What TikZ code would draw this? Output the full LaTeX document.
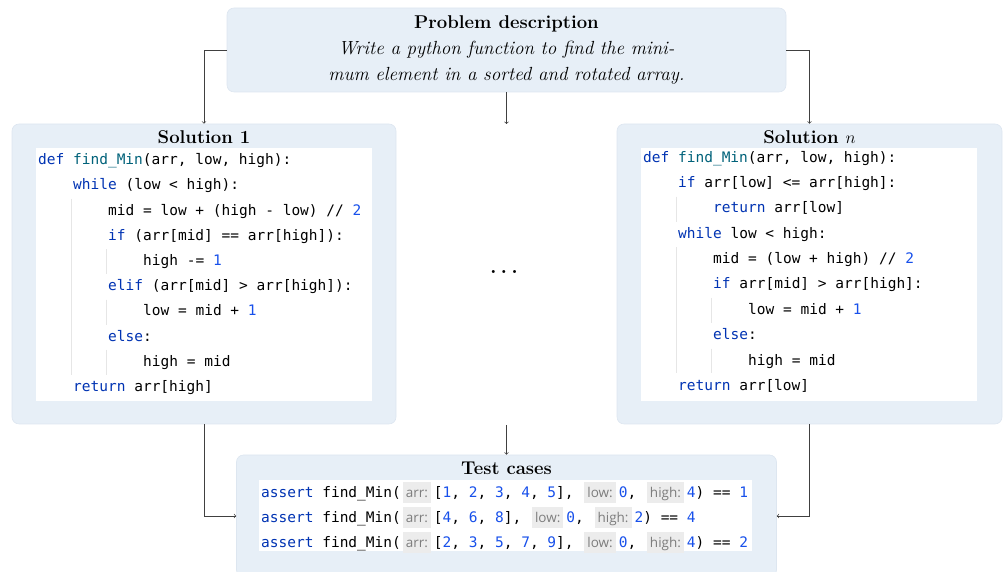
\documentclass[tikz,border=0pt]{standalone}
\usepackage{fontspec}
\newfontfamily\codefont{DejaVu Sans Mono}
\newfontfamily\hintfont{Open Sans}

\definecolor{boxfill}{RGB}{231,239,247}
\definecolor{boxline}{RGB}{221,230,240}
\definecolor{kwblue}{RGB}{0,51,179}
\definecolor{fnteal}{RGB}{0,98,122}
\definecolor{numblue}{RGB}{23,80,235}
\definecolor{hintbg}{RGB}{236,236,236}
\definecolor{hintfg}{RGB}{125,125,125}
\definecolor{guidegray}{RGB}{230,230,230}

\newcommand{\kw}[1]{\textcolor{kwblue}{#1}}
\newcommand{\fn}[1]{\textcolor{fnteal}{#1}}
\newcommand{\nm}[1]{\textcolor{numblue}{#1}}
\newcommand{\hint}[1]{\hspace{2pt}{\setlength{\fboxsep}{0pt}\colorbox{hintbg}{\hspace{3pt}\hintfont\fontsize{13.5}{15}\selectfont\color{hintfg}\rule[-5.5pt]{0pt}{21pt}#1\hspace{3pt}}}\hspace{3pt}}

\tikzset{
    panel/.style={draw=boxline, fill=boxfill, rounded corners=7pt, line width=0.6pt},
    codebg/.style={fill=white, inner sep=0pt},
    codeline/.style={anchor=west, inner sep=0pt, text height=10.5pt, text depth=3pt,
        font=\codefont\fontsize{14.5}{17}\selectfont},
    title/.style={font=\fontsize{18.5}{22}\selectfont\bfseries, inner sep=0pt},
    arr/.style={->, line width=0.7pt, draw=black!75},
    guide/.style={draw=guidegray, line width=0.8pt}
}

\begin{document}
\begin{tikzpicture}[x=1pt, y=1pt]
    \useasboundingbox (0,0) rectangle (1005,572);

%problem
    \node[panel, minimum width=559pt, minimum height=84pt] (prob) at (506.5,522) {};
    \node[title] (probtitle) at (506.5,548) {Problem description};
    \node[font=\fontsize{19}{26}\selectfont\itshape, align=center, inner sep=0pt] (probtext) at (506.5,509)
        {Write a python function to find the mini-\\mum element in a sorted and rotated array.};

%solution 1
    \node[panel, minimum width=384pt, minimum height=300pt] (sol1) at (204,298) {};
    \node[title] (sol1title) at (204,435) {Solution 1};
    \node[codebg, minimum width=336pt, minimum height=253pt] (code1) at (204,297.5) {};
    \draw[guide] (71,373.2) -- (71,196.8);
    \draw[guide] (106,322.8) -- (106,297.6);
    \draw[guide] (106,272.4) -- (106,247.2);
    \draw[guide] (106,222) -- (106,196.8);
    \node[codeline] (a0) at (38,411) {\kw{def} \fn{find\_Min}(arr, low, high):};
    \node[codeline] (a1) at (73,385.8) {\kw{while} (low < high):};
    \node[codeline] (a2) at (108,360.6) {mid = low + (high - low) // \nm{2}};
    \node[codeline] (a3) at (108,335.4) {\kw{if} (arr[mid] == arr[high]):};
    \node[codeline] (a4) at (143,310.2) {high -= \nm{1}};
    \node[codeline] (a5) at (108,285) {\kw{elif} (arr[mid] > arr[high]):};
    \node[codeline] (a6) at (143,259.8) {low = mid + \nm{1}};
    \node[codeline] (a7) at (108,234.6) {\kw{else}:};
    \node[codeline] (a8) at (143,209.4) {high = mid};
    \node[codeline] (a9) at (73,184.2) {\kw{return} arr[high]};

%solution n
    \node[panel, minimum width=385pt, minimum height=300pt] (soln) at (809.5,298) {};
    \node[title] (solntitle) at (809.5,435) {Solution $n$};
    \node[codebg, minimum width=336pt, minimum height=253pt] (coden) at (809,297.5) {};
    \draw[guide] (676,375.3) -- (676,350);
    \draw[guide] (676,324.6) -- (676,198.9);
    \draw[guide] (711,274) -- (711,248.7);
    \draw[guide] (711,223.3) -- (711,198.9);
    \node[codeline] (b0) at (643,413.5) {\kw{def} \fn{find\_Min}(arr, low, high):};
    \node[codeline] (b1) at (678,388.2) {\kw{if} arr[low] <= arr[high]:};
    \node[codeline] (b2) at (713,362.8) {\kw{return} arr[low]};
    \node[codeline] (b3) at (678,337.5) {\kw{while} low < high:};
    \node[codeline] (b4) at (713,312.1) {mid = (low + high) // \nm{2}};
    \node[codeline] (b5) at (713,286.8) {\kw{if} arr[mid] > arr[high]:};
    \node[codeline] (b6) at (748,261.4) {low = mid + \nm{1}};
    \node[codeline] (b7) at (713,236.1) {\kw{else}:};
    \node[codeline] (b8) at (748,210.7) {high = mid};
    \node[codeline] (b9) at (678,185.4) {\kw{return} arr[low]};

    \node[font=\fontsize{21}{24}\selectfont\bfseries, inner sep=0pt, anchor=base] (dots) at (504,298) {.\hspace{4pt}.\hspace{4pt}.};

%test cases
    \node[panel, minimum width=540pt, minimum height=122pt] (test) at (506.5,56) {};
    \node[title] (testtitle) at (506.5,104) {Test cases};
    \node[codebg, minimum width=493pt, minimum height=71pt] (codet) at (505.5,56.5) {};
    \node[codeline] (t1) at (261,78) {\kw{assert} find\_Min(\hint{arr:}[\nm{1}, \nm{2}, \nm{3}, \nm{4}, \nm{5}], \hint{low:}\nm{0}, \hint{high:}\nm{4}) == \nm{1}};
    \node[codeline] (t2) at (261,53) {\kw{assert} find\_Min(\hint{arr:}[\nm{4}, \nm{6}, \nm{8}], \hint{low:}\nm{0}, \hint{high:}\nm{2}) == \nm{4}};
    \node[codeline] (t3) at (261,28) {\kw{assert} find\_Min(\hint{arr:}[\nm{2}, \nm{3}, \nm{5}, \nm{7}, \nm{9}], \hint{low:}\nm{0}, \hint{high:}\nm{4}) == \nm{2}};

%arrows
    \coordinate (midtop) at (506.5,448);
    \coordinate (midbot) at (506.5,147);
    \draw[arr] (prob.west) -| (sol1.north);
    \draw[arr] (prob.east) -| (soln.north);
    \draw[arr] (prob.south) -- (midtop);
    \draw[arr] (midbot) -- (test.north);
    \draw[arr] (sol1.south) |- (test.west);
    \draw[arr] (soln.south) |- (test.east);
\end{tikzpicture}
\end{document}
